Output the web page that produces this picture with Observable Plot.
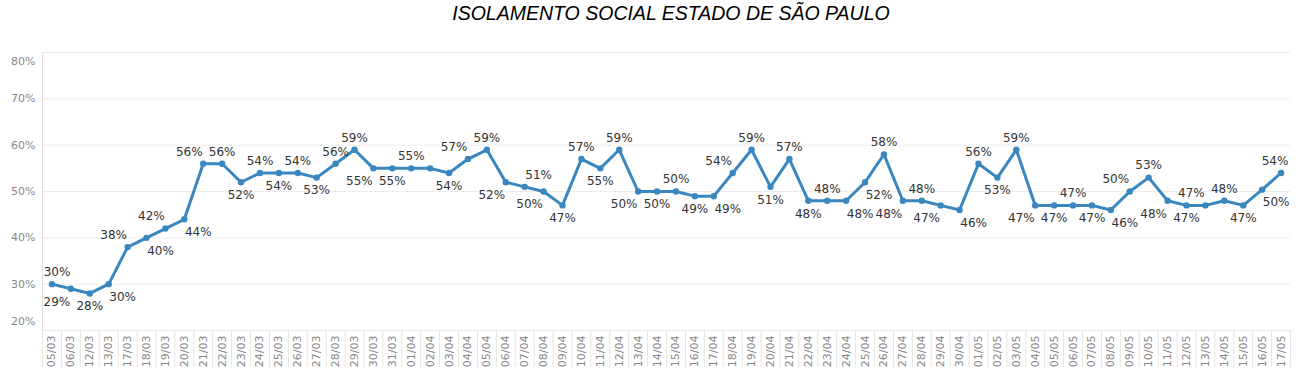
<!DOCTYPE html>
<html>
<head>
<meta charset="utf-8">
<script src="https://cdn.jsdelivr.net/npm/d3@7"></script>
<script src="https://cdn.jsdelivr.net/npm/@observablehq/plot@0.6"></script>
<style>
  html, body { margin: 0; padding: 0; background: #fff; }
  #wrap { position: relative; width: 1302px; height: 391px; }
  #title { position: absolute; left: 0; top: 4px; width: 1262px; padding-left: 40px; text-align: center;
           font-family: "Liberation Sans", Arial, sans-serif; font-style: italic; font-size: 19.5px; line-height: 19px; color: #000; }
</style>
</head>
<body>
<div id="wrap">
  <div id="title">ISOLAMENTO SOCIAL ESTADO DE SÃO PAULO</div>
  <div id="chart"></div>
</div>
<script>
const dates = [
  "05/03","06/03","12/03","13/03","17/03","18/03","19/03","20/03","21/03","22/03",
  "23/03","24/03","25/03","26/03","27/03","28/03","29/03","30/03","31/03","01/04",
  "02/04","03/04","04/04","05/04","06/04","07/04","08/04","09/04","10/04","11/04",
  "12/04","13/04","14/04","15/04","16/04","17/04","18/04","19/04","20/04","21/04",
  "22/04","23/04","24/04","25/04","26/04","27/04","28/04","29/04","30/04","01/05",
  "02/05","03/05","04/05","05/05","06/05","07/05","08/05","09/05","10/05","11/05",
  "12/05","13/05","14/05","15/05","16/05","17/05"
];
const isolamento = [
  30,29,28,30,38,40,42,44,56,56,
  52,54,54,54,53,56,59,55,55,55,
  55,54,57,59,52,51,50,47,57,55,
  59,50,50,50,49,49,54,59,51,57,
  48,48,48,52,58,48,48,47,46,56,
  53,59,47,47,47,47,46,50,53,48,
  47,47,48,47,50.4,54
];
// label placement codes (t = above, b = below, l/r = nudged left/right, "" = hidden)
const labelPlacement = [
  "t>","bl","b","br","tl","br","tl","br","tl","t",
  "b","t","b","t","b","t","t","bl","b","t",
  "","b","tl","t","bl","tr","bl","b","t","b",
  "t","bl","b","t","b","br","tl","t","b","t",
  "b","t","br","br","t","bl","t","bl","br","t",
  "b","t","bl","b","t","b","br","tl","t","bl",
  "b","tl","t","b","br","t<"
];
const yTicks = [20, 30, 40, 50, 60, 70, 80];

const data = dates.map((d, i) => ({date: d, value: isolamento[i] / 100, pos: labelPlacement[i]}));

const W = 1302, H = 391, mL = 42, mR = 12, mT = 52, mB = 61;
const step = (W - mL - mR) / dates.length;
const blue = "#3a87c0";
const dxOf = {"t": 0, "b": 0, "tl": -14, "tr": 14, "bl": -14, "br": 14, "t>": 5, "t<": -6};

const labelMarks = Object.keys(dxOf).map(code => Plot.text(data.filter(d => d.pos === code), {
  x: "date", y: "value",
  text: d => Math.round(d.value * 100) + "%",
  dx: dxOf[code], dy: code.startsWith("t") ? -12 : 13,
  fill: "#333", fontSize: 12
}));

const chart = Plot.plot({
  width: W, height: H,
  marginLeft: mL, marginRight: mR, marginTop: mT, marginBottom: mB,
  style: {fontFamily: "DejaVu Sans, sans-serif", background: "#fff"},
  x: {type: "point", domain: dates, padding: 0.5, label: null},
  y: {domain: [0.2, 0.8], label: null},
  marks: [
    Plot.gridY(yTicks.map(v => v / 100), {stroke: "#ececec", strokeOpacity: 1}),
    Plot.ruleX([dates[0]], {dx: -step / 2, stroke: "#e0e0e0"}),
    Plot.axisX({tickSize: 37, tickFormat: () => "", dx: -step / 2, stroke: "#e6e6e6", label: null}),
    Plot.axisX([dates[dates.length - 1]], {tickSize: 37, tickFormat: () => "", dx: step / 2, stroke: "#e6e6e6", label: null}),
    Plot.axisX({tickSize: 0, tickPadding: 5, tickRotate: -90, fill: "#888", fontSize: 11, label: null}),
    Plot.axisY(yTicks.filter(v => v > 20 && v < 80).map(v => v / 100), {tickSize: 0, tickPadding: 7, tickFormat: d3.format(".0%"), fill: "#888", fontSize: 11, label: null}),
    Plot.axisY([0.8], {tickSize: 0, tickPadding: 7, tickFormat: d3.format(".0%"), fill: "#888", fontSize: 11, dy: 9, label: null}),
    Plot.axisY([0.2], {tickSize: 0, tickPadding: 7, tickFormat: d3.format(".0%"), fill: "#888", fontSize: 11, dy: -9, label: null}),
    Plot.line(data, {x: "date", y: "value", stroke: blue, strokeWidth: 3}),
    Plot.dot(data, {x: "date", y: "value", r: 3.2, fill: blue}),
    ...labelMarks
  ]
});
document.getElementById("chart").appendChild(chart);
</script>
</body>
</html>
